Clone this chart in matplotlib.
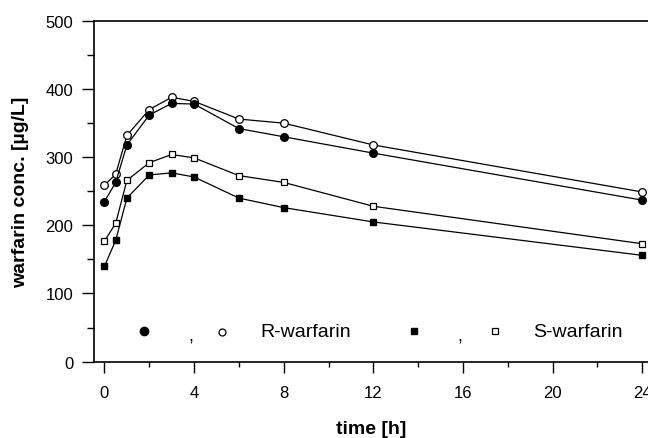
import matplotlib
matplotlib.use("Agg")
import matplotlib.pyplot as plt
from matplotlib.ticker import MultipleLocator

plt.rcParams['font.family'] = ['Liberation Sans', 'DejaVu Sans']

# sampling times [h]
time_h = [0, 0.5, 1, 2, 3, 4, 6, 8, 12, 24]

# warfarin concentrations [ug/L]
r_filled = [235, 263, 318, 362, 379, 378, 342, 330, 306, 237]
r_open = [259, 275, 332, 370, 388, 382, 356, 350, 318, 249]
s_filled = [140, 178, 240, 274, 277, 271, 240, 226, 205, 156]
s_open = [177, 203, 266, 292, 304, 299, 273, 263, 228, 173]

fig = plt.figure(figsize=(6.48, 4.39), dpi=100)
ax = fig.add_axes([0.145, 0.174, 0.855, 0.776])

ms = 5.5
ax.plot(time_h, r_open, color='black', lw=0.9, marker='o', ms=ms, mfc='white', mec='black', mew=0.9)
ax.plot(time_h, r_filled, color='black', lw=0.9, marker='o', ms=ms, mfc='black', mec='black')
ax.plot(time_h, s_open, color='black', lw=0.9, marker='s', ms=ms - 0.5, mfc='white', mec='black', mew=0.9)
ax.plot(time_h, s_filled, color='black', lw=0.9, marker='s', ms=ms - 0.5, mfc='black', mec='black')

ax.set_xlim(-0.47, 24.26)
ax.set_ylim(0, 500)

ax.xaxis.set_major_locator(MultipleLocator(4))
ax.xaxis.set_minor_locator(MultipleLocator(2))
ax.yaxis.set_major_locator(MultipleLocator(100))
ax.yaxis.set_minor_locator(MultipleLocator(50))

ax.tick_params(axis='x', which='major', direction='out', length=8, width=1, labelsize=12, pad=9)
ax.tick_params(axis='x', which='minor', direction='out', length=3.5, width=1)
ax.tick_params(axis='y', which='major', direction='out', length=9, width=1, labelsize=12, pad=6)
ax.tick_params(axis='y', which='minor', direction='out', length=5, width=1)

ax.spines['right'].set_visible(False)
for side in ('left', 'top', 'bottom'):
    ax.spines[side].set_linewidth(1.2)

ax.set_xlabel('time [h]', fontsize=14, fontweight='bold', labelpad=14)
ax.set_ylabel('warfarin conc. [µg/L]', fontsize=14, fontweight='bold', labelpad=12)

# legend row drawn as in the original figure
ly = 0.087
def pos(px):
    return (px - 94) / (648 - 94)

ax.plot([pos(144)], [ly + 0.003], transform=ax.transAxes, marker='o', ms=6, color='black', clip_on=False)
ax.text(pos(191), ly - 0.025, ',', transform=ax.transAxes, fontsize=13, ha='center')
ax.plot([pos(222)], [ly], transform=ax.transAxes, marker='o', ms=5, mfc='white', mec='black', mew=0.9, clip_on=False)
ax.text(pos(260), ly, 'R-warfarin', transform=ax.transAxes, fontsize=14, va='center')
ax.plot([pos(414)], [ly + 0.003], transform=ax.transAxes, marker='s', ms=4.5, color='black', clip_on=False)
ax.text(pos(460), ly - 0.025, ',', transform=ax.transAxes, fontsize=13, ha='center')
ax.plot([pos(495)], [ly + 0.003], transform=ax.transAxes, marker='s', ms=4.2, mfc='white', mec='black', mew=0.9, clip_on=False)
ax.text(pos(533), ly, 'S-warfarin', transform=ax.transAxes, fontsize=14, va='center')

fig.savefig('out.png', dpi=100)
